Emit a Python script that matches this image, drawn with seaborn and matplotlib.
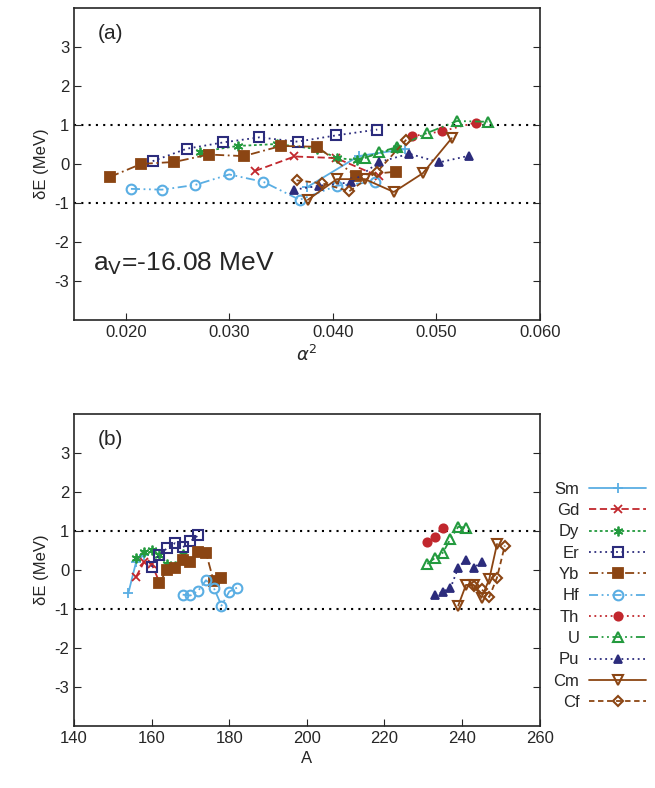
import numpy as np
import pandas as pd
import matplotlib
matplotlib.use("Agg")
import matplotlib.pyplot as plt
import seaborn as sns

# --- data ---
nuclei = ["Sm", "Gd", "Dy", "Er", "Yb", "Hf", "Th", "U", "Pu", "Cm", "Cf"]

A = {
    "Sm": [154, 156, 158],
    "Gd": [156, 158, 160, 162],
    "Dy": [156, 158, 160, 162, 164, 166, 168],
    "Er": [160, 162, 164, 166, 168, 170, 172],
    "Yb": [162, 164, 166, 168, 170, 172, 174, 176, 178],
    "Hf": [168, 170, 172, 174, 176, 178, 180, 182],
    "Th": [231, 233, 235],
    "U": [231, 233, 235, 237, 239, 241],
    "Pu": [233, 235, 237, 239, 241, 243, 245],
    "Cm": [239, 241, 243, 245, 247, 249],
    "Cf": [243, 245, 247, 249, 251],
}
alpha2 = {
    "Sm": [0.0375, 0.0425, 0.0470],
    "Gd": [0.0325, 0.0363, 0.0403, 0.0445],
    "Dy": [0.0272, 0.0308, 0.0346, 0.0385, 0.0404, 0.0423, 0.0462],
    "Er": [0.0226, 0.0259, 0.0294, 0.0329, 0.0366, 0.0403, 0.0443],
    "Yb": [0.0185, 0.0215, 0.0247, 0.0280, 0.0314, 0.0350, 0.0385, 0.0422, 0.0461],
    "Hf": [0.0205, 0.0235, 0.0267, 0.0300, 0.0333, 0.0368, 0.0404, 0.0441],
    "Th": [0.0477, 0.0506, 0.0538],
    "U": [0.0431, 0.0445, 0.0462, 0.0491, 0.0520, 0.0550],
    "Pu": [0.0363, 0.0387, 0.0418, 0.0445, 0.0474, 0.0503, 0.0532],
    "Cm": [0.0376, 0.0404, 0.0431, 0.0459, 0.0487, 0.0515],
    "Cf": [0.0365, 0.0390, 0.0416, 0.0443, 0.0471],
}
dE = {
    "Sm": [-0.60, 0.20, 0.38],
    "Gd": [-0.18, 0.19, 0.15, -0.32],
    "Dy": [0.31, 0.46, 0.51, 0.38, 0.15, 0.10, 0.41],
    "Er": [0.07, 0.39, 0.55, 0.68, 0.57, 0.73, 0.88],
    "Yb": [-0.33, 0.00, 0.05, 0.24, 0.20, 0.46, 0.44, -0.30, -0.20],
    "Hf": [-0.64, -0.66, -0.54, -0.27, -0.46, -0.92, -0.56, -0.46],
    "Th": [0.71, 0.84, 1.06],
    "U": [0.15, 0.30, 0.43, 0.79, 1.10, 1.08],
    "Pu": [-0.66, -0.56, -0.47, 0.05, 0.26, 0.04, 0.21],
    "Cm": [-0.92, -0.39, -0.39, -0.72, -0.24, 0.66],
    "Cf": [-0.42, -0.50, -0.70, -0.20, 0.62],
}

lblue, red, green, navy, brown = "#5aaee3", "#c1272d", "#239a3e", "#2c2c7c", "#8b4513"
style = {
    "Sm": dict(color=lblue, ls="-", marker="+", ms=7, mfc="none"),
    "Gd": dict(color=red, ls=(0, (4, 2)), marker="x", ms=6, mfc="none"),
    "Dy": dict(color=green, ls=(0, (1.5, 1.5)), marker=(6, 2, 0), ms=7, mfc="none"),
    "Er": dict(color=navy, ls=(0, (1, 2)), marker="s", ms=6.5, mfc="none", mew=1.5),
    "Yb": dict(color=brown, ls=(0, (5, 2, 1, 2)), marker="s", ms=6.5),
    "Hf": dict(color=lblue, ls=(0, (5, 2, 1, 2, 1, 2)), marker="o", ms=7, mfc="none", mew=1.5),
    "Th": dict(color=red, ls=(0, (1, 2)), marker="o", ms=6),
    "U": dict(color=green, ls=(0, (5, 2, 1, 2, 1, 2)), marker="^", ms=7, mfc="none", mew=1.5),
    "Pu": dict(color=navy, ls=(0, (1, 2)), marker="^", ms=5.5),
    "Cm": dict(color=brown, ls="-", marker="v", ms=7, mfc="none", mew=1.5),
    "Cf": dict(color=brown, ls=(0, (3, 2)), marker="D", ms=5.5, mfc="none", mew=1.5),
}

sns.set_style("ticks")
plt.rcParams["font.family"] = ["Liberation Sans", "DejaVu Sans"]
plt.rcParams["axes.unicode_minus"] = False

fig = plt.figure(figsize=(6.55, 7.88), dpi=100)
ax_a = fig.add_axes([0.113, 0.594, 0.711, 0.396])
ax_b = fig.add_axes([0.113, 0.079, 0.711, 0.396])

for n in nuclei:
    kw = style[n]
    df = pd.DataFrame({"a2": alpha2[n], "A": A[n], "dE": dE[n]})
    for ax, xcol, lab in ((ax_a, "a2", None), (ax_b, "A", n)):
        sns.lineplot(data=df, x=xcol, y="dE", ax=ax, sort=False, lw=1.3, label=lab,
                     color=kw["color"], linestyle=kw["ls"], marker=kw["marker"],
                     markersize=kw["ms"], markerfacecolor=kw.get("mfc", kw["color"]),
                     markeredgecolor=kw["color"], markeredgewidth=kw.get("mew", 1.3))

for ax in (ax_a, ax_b):
    ax.axhline(1, color="black", ls=(0, (1, 2.5)), lw=1.5, zorder=0)
    ax.axhline(-1, color="black", ls=(0, (1, 2.5)), lw=1.5, zorder=0)
    ax.set_ylim(-4, 4)
    ax.set_yticks([-3, -2, -1, 0, 1, 2, 3])
    ax.set_ylabel("δE (MeV)", fontsize=12)
    ax.tick_params(direction="in", right=True, top=False, labelsize=12, length=5)
    for s in ax.spines.values():
        s.set_linewidth(1.2)

ax_a.set_xlim(0.015, 0.060)
ax_a.set_xticks([0.020, 0.030, 0.040, 0.050, 0.060])
ax_a.set_xticklabels(["0.020", "0.030", "0.040", "0.050", "0.060"])
ax_a.set_xlabel(r"$\alpha^2$", fontsize=13)
ax_a.text(0.05, 0.9, "(a)", transform=ax_a.transAxes, fontsize=15)
ax_a.text(0.04, 0.16, r"a$_\mathrm{V}$=-16.08 MeV", transform=ax_a.transAxes, fontsize=19)

ax_b.set_xlim(140, 260)
ax_b.set_xticks(range(140, 261, 20))
ax_b.set_xlabel("A", fontsize=12)
ax_b.text(0.05, 0.9, "(b)", transform=ax_b.transAxes, fontsize=15)

h, l = ax_b.get_legend_handles_labels()
ax_b.legend_.remove()
if ax_a.legend_ is not None:
    ax_a.legend_.remove()
fig.legend(h, l, loc="upper left", bbox_to_anchor=(0.835, 0.397), frameon=False,
           markerfirst=False, fontsize=12, handlelength=3.4, labelspacing=0.38,
           handletextpad=0.6, borderaxespad=0)

fig.savefig("out.png", dpi=100)
